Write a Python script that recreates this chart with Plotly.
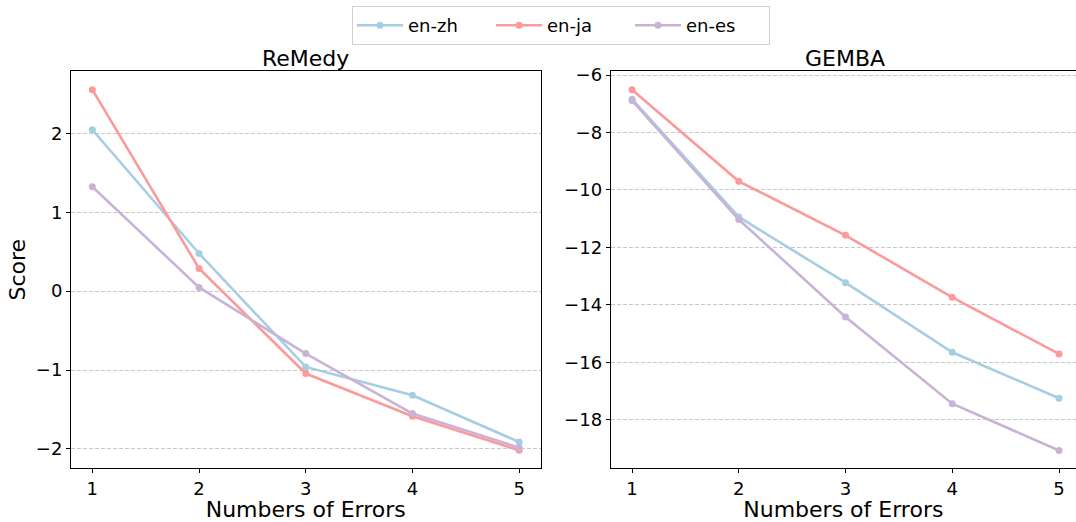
import plotly.graph_objects as go

errors = [1, 2, 3, 4, 5]
series_names = ["en-zh", "en-ja", "en-es"]
colors = ["#a6cee3", "#fb9a99", "#cab2d6"]

remedy_zh = [2.048, 0.478, -0.961, -1.320, -1.913]
remedy_ja = [2.556, 0.288, -1.045, -1.587, -2.019]
remedy_es = [1.325, 0.047, -0.791, -1.553, -1.985]

gemba_zh = [-6.84, -10.94, -13.23, -15.65, -17.25]
gemba_ja = [-6.51, -9.70, -11.58, -13.74, -15.71]
gemba_es = [-6.89, -11.03, -14.42, -17.44, -19.07]

remedy = [remedy_zh, remedy_ja, remedy_es]
gemba = [gemba_zh, gemba_ja, gemba_es]

FONT = "DejaVu Sans"
fig = go.Figure()
for i, name in enumerate(series_names):
    fig.add_trace(go.Scatter(x=errors, y=remedy[i], mode="lines+markers", name=name,
                             line=dict(color=colors[i], width=2.6),
                             marker=dict(color=colors[i], size=7),
                             xaxis="x", yaxis="y", legendgroup=name))
for i, name in enumerate(series_names):
    fig.add_trace(go.Scatter(x=errors, y=gemba[i], mode="lines+markers", name=name,
                             line=dict(color=colors[i], width=2.6),
                             marker=dict(color=colors[i], size=7),
                             xaxis="x2", yaxis="y2", legendgroup=name, showlegend=False))

W, H = 1076, 522
ydom = [1 - 468.3 / H, 1 - 71 / H]
common_x = dict(tickmode="array", tickvals=errors, ticks="outside", ticklen=4, tickwidth=1,
                tickcolor="black", showline=True, linecolor="black", linewidth=1,
                showgrid=False, zeroline=False, automargin=False,
                tickfont=dict(family=FONT, size=18, color="black"),
                title=dict(text="Numbers of Errors", font=dict(family=FONT, size=22, color="black"),
                           standoff=10))
common_y = dict(ticks="outside", ticklen=4, tickwidth=1, tickcolor="black",
                showline=True, linecolor="black", linewidth=1, automargin=False,
                showgrid=True, gridcolor="#c8c8c8", griddash="4px,2px", gridwidth=0.8,
                zeroline=False, tickfont=dict(family=FONT, size=18, color="black"))

fig.update_layout(
    width=W, height=H,
    margin=dict(l=0, r=0, t=0, b=0),
    paper_bgcolor="white", plot_bgcolor="white",
    font=dict(family=FONT, color="black"),
    xaxis=dict(domain=[71 / W, 540.5 / W], range=[0.8, 5.2], anchor="y", mirror=True, **common_x),
    yaxis=dict(domain=ydom, range=[-2.247, 2.793], anchor="x", mirror=True,
               tickvals=[-2, -1, 0, 1, 2], ticktext=["\u22122", "\u22121", "0", "1", "2"],
               title=dict(text="Score", font=dict(family=FONT, size=22, color="black"), standoff=4),
               **common_y),
    xaxis2=dict(domain=[610.7 / W, 1.0], range=[0.8, 5.159], anchor="y2", mirror=True, **common_x),
    yaxis2=dict(domain=ydom, range=[-19.69, -5.86], anchor="x2", mirror=False,
                tickvals=[-18, -16, -14, -12, -10, -8, -6],
                ticktext=["\u221218", "\u221216", "\u221214", "\u221212", "\u221210", "\u22128", "\u22126"],
                **common_y),
    legend=dict(orientation="h", x=561 / W, xanchor="center", y=1 - 6 / H, yanchor="top",
                bordercolor="#d0d0d0", borderwidth=1, bgcolor="white",
                font=dict(family=FONT, size=18, color="black"),
                entrywidth=78, itemwidth=46),
    annotations=[
        dict(text="ReMedy", x=(71 + 540.5) / 2 / W, y=1 - 58 / H, xref="paper", yref="paper",
             showarrow=False, font=dict(family=FONT, size=22, color="black"),
             xanchor="center", yanchor="middle"),
        dict(text="GEMBA", x=(610.7 + 1080) / 2 / W, y=1 - 58 / H, xref="paper", yref="paper",
             showarrow=False, font=dict(family=FONT, size=22, color="black"),
             xanchor="center", yanchor="middle"),
    ],
)

fig.write_html("out.html", config={"displayModeBar": False},
               post_script="document.body.style.margin='0';document.body.style.overflow='hidden';")
